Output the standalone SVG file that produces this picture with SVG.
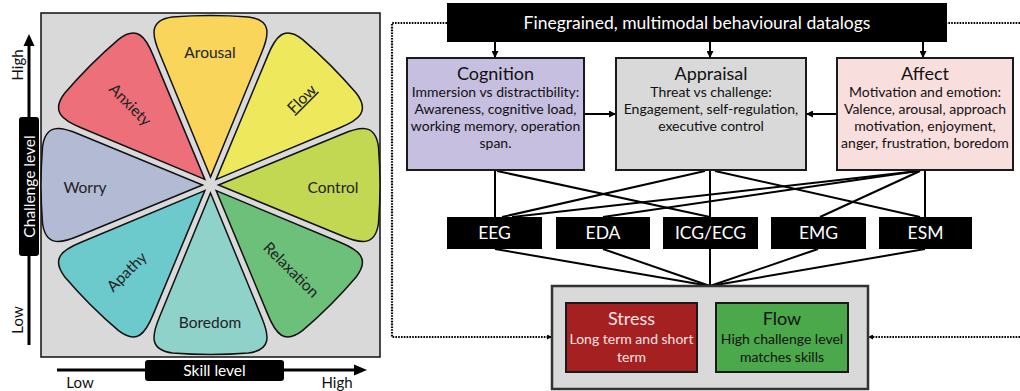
<svg xmlns="http://www.w3.org/2000/svg" width="1020" height="391" viewBox="0 0 1020 391">
  <defs>
    <!-- one petal of the flow wheel, pointing up from the hub -->
    <path id="petal" d="M0,-8 L-51,-132 C-59,-151 -61,-165 -38,-168 Q0,-171 38,-168 C61,-165 59,-151 51,-132 Z"/>
    <marker id="ah" viewBox="0 0 10 10" refX="10" refY="5" markerUnits="userSpaceOnUse" markerWidth="7" markerHeight="7" orient="auto-start-reverse">
      <path d="M0,0 L10,5 L0,10 Z" fill="#000"/>
    </marker>
    <marker id="ahs" viewBox="0 0 10 10" refX="10" refY="5" markerUnits="userSpaceOnUse" markerWidth="5" markerHeight="5" orient="auto-start-reverse">
      <path d="M0,0 L10,5 L0,10 Z" fill="#000"/>
    </marker>
  </defs>
  <style>
    text { font-family: Lato, "Open Sans", "DejaVu Sans", sans-serif; }
    .petal { stroke: #111; stroke-width: 1.5; }
    .plbl { font-size: 15.5px; fill: #222; text-anchor: middle; }
    .axlbl { font-size: 15px; fill: #111; text-anchor: middle; }
    .axbox { fill: #000; }
    .axtxt { font-size: 15.5px; fill: #fff; text-anchor: middle; }
    .box { stroke: #1a1a1a; stroke-width: 2; }
    .ttl { font-size: 18px; fill: #111; text-anchor: middle; }
    .body { font-size: 14px; fill: #111; text-anchor: middle; }
    .blk { fill: #000; }
    .wtxt { font-size: 17.5px; fill: #fff; text-anchor: middle; }
    .conn { stroke: #000; stroke-width: 2; fill: none; }
    .dot { stroke: #000; stroke-width: 2.2; stroke-dasharray: 1.6 1.2; fill: none; }
    .light { fill: #fbe3e3; }
  </style>

  <rect width="1020" height="391" fill="#fff"/>

  <!-- flow wheel panel -->
  <g id="wheel">
    <rect x="41" y="13" width="339" height="344" fill="#d9d9d9" stroke="#111" stroke-width="1.5"/>
    <g transform="translate(210.5,185)">
      <use href="#petal" class="petal" fill="#f9d55b" transform="rotate(0)"/>
      <use href="#petal" class="petal" fill="#ede85c" transform="rotate(45)"/>
      <use href="#petal" class="petal" fill="#c3d852" transform="rotate(90)"/>
      <use href="#petal" class="petal" fill="#6dc07a" transform="rotate(135)"/>
      <use href="#petal" class="petal" fill="#8fd2ca" transform="rotate(180)"/>
      <use href="#petal" class="petal" fill="#6ccacc" transform="rotate(225)"/>
      <use href="#petal" class="petal" fill="#b3bad4" transform="rotate(270)"/>
      <use href="#petal" class="petal" fill="#ec6f7a" transform="rotate(315)"/>
    </g>
    <text class="plbl" x="210" y="58">Arousal</text>
    <text class="plbl" transform="translate(302,99) rotate(-45)" y="5" text-decoration="underline">Flow</text>
    <text class="plbl" x="333" y="193">Control</text>
    <text class="plbl" transform="translate(291,270) rotate(45)" y="5">Relaxation</text>
    <text class="plbl" x="210" y="328">Boredom</text>
    <text class="plbl" transform="translate(127,272) rotate(-45)" y="5">Apathy</text>
    <text class="plbl" x="85" y="193">Worry</text>
    <text class="plbl" transform="translate(130,105) rotate(45)" y="5">Anxiety</text>
  </g>

  <!-- challenge axis -->
  <g id="challenge-axis">
    <line x1="29" y1="345" x2="29" y2="44" stroke="#000" stroke-width="3"/>
    <path d="M23.5,46 L29,34 L34.5,46 Z" fill="#000"/>
    <rect class="axbox" x="19" y="117" width="20" height="139" rx="3"/>
    <text class="axtxt" transform="translate(34.5,186.5) rotate(-90)">Challenge level</text>
    <text class="axlbl" transform="translate(23,65) rotate(-90)">High</text>
    <text class="axlbl" transform="translate(23,320) rotate(-90)">Low</text>
  </g>

  <!-- skill axis -->
  <g id="skill-axis">
    <line x1="57" y1="370" x2="356" y2="370" stroke="#000" stroke-width="3"/>
    <path d="M354,364.5 L367,370 L354,375.5 Z" fill="#000"/>
    <rect class="axbox" x="145" y="360" width="139" height="21" rx="3"/>
    <text class="axtxt" x="214.5" y="376">Skill level</text>
    <text class="axlbl" x="80" y="388">Low</text>
    <text class="axlbl" x="337" y="388">High</text>
  </g>

  <!-- connectors -->
  <g id="connectors">
    <line class="conn" x1="495" y1="42" x2="495" y2="58" marker-end="url(#ah)"/>
    <line class="conn" x1="710" y1="42" x2="710" y2="58" marker-end="url(#ah)"/>
    <line class="conn" x1="923" y1="42" x2="923" y2="58" marker-end="url(#ah)"/>
    <line class="conn" x1="584" y1="114" x2="616" y2="114" marker-end="url(#ah)"/>
    <line class="conn" x1="837" y1="114" x2="806" y2="114" marker-end="url(#ah)"/>

    <line class="conn" x1="495" y1="171" x2="495" y2="217"/>
    <line class="conn" x1="497" y1="171" x2="710" y2="217"/>
    <line class="conn" x1="705" y1="171" x2="502" y2="217"/>
    <line class="conn" x1="710" y1="171" x2="710" y2="217"/>
    <line class="conn" x1="715" y1="171" x2="920" y2="217"/>
    <line class="conn" x1="918" y1="171" x2="512" y2="217"/>
    <line class="conn" x1="918" y1="171" x2="603" y2="217"/>
    <line class="conn" x1="920" y1="171" x2="820" y2="217"/>
    <line class="conn" x1="925" y1="171" x2="925" y2="217"/>

    <line class="conn" x1="495" y1="249" x2="710" y2="286"/>
    <line class="conn" x1="603" y1="249" x2="710" y2="286"/>
    <line class="conn" x1="710" y1="249" x2="710" y2="286"/>
    <line class="conn" x1="818" y1="249" x2="710" y2="286"/>
    <line class="conn" x1="925" y1="249" x2="710" y2="286"/>

    <line class="conn" x1="698" y1="340" x2="715" y2="340" stroke-width="1.5" marker-start="url(#ahs)" marker-end="url(#ahs)"/>

    <path class="dot" d="M447,23 H392 V337 H552" marker-end="url(#ahs)"/>
    <path class="dot" d="M1020,23 H947"/>
    <path class="dot" d="M1020,337 H868" marker-end="url(#ahs)"/>
  </g>

  <g id="datalogs">
    <rect class="blk" x="447" y="3" width="500" height="39"/>
    <text class="wtxt" x="697" y="29">Finegrained, multimodal behavioural datalogs</text>
  </g>

  <g id="cognition">
    <rect class="box" x="407" y="58" width="177" height="112" fill="#c6bfe0"/>
    <text class="ttl" x="495.5" y="80">Cognition</text>
    <text class="body" x="495.5" y="97">Immersion vs distractibility:</text>
    <text class="body" x="495.5" y="114">Awareness, cognitive load,</text>
    <text class="body" x="495.5" y="131">working memory, operation</text>
    <text class="body" x="495.5" y="148">span.</text>
  </g>

  <g id="appraisal">
    <rect class="box" x="616" y="58" width="190" height="112" fill="#d9d9d9"/>
    <text class="ttl" x="711" y="80">Appraisal</text>
    <text class="body" x="711" y="97">Threat vs challenge:</text>
    <text class="body" x="711" y="114">Engagement, self-regulation,</text>
    <text class="body" x="711" y="131">executive control</text>
  </g>

  <g id="affect">
    <rect class="box" x="837" y="58" width="176" height="112" fill="#f9dede"/>
    <text class="ttl" x="925" y="80">Affect</text>
    <text class="body" x="925" y="97">Motivation and emotion:</text>
    <text class="body" x="925" y="114">Valence, arousal, approach</text>
    <text class="body" x="925" y="131">motivation, enjoyment,</text>
    <text class="body" x="925" y="148">anger, frustration, boredom</text>
  </g>

  <g id="eeg"><rect class="blk" x="447" y="217" width="95" height="32"/><text class="wtxt" x="494.5" y="239">EEG</text></g>
  <g id="eda"><rect class="blk" x="556" y="217" width="94" height="32"/><text class="wtxt" x="603" y="239">EDA</text></g>
  <g id="icg-ecg"><rect class="blk" x="663" y="217" width="95" height="32"/><text class="wtxt" x="710.5" y="239">ICG/ECG</text></g>
  <g id="emg"><rect class="blk" x="771" y="217" width="95" height="32"/><text class="wtxt" x="818.5" y="239">EMG</text></g>
  <g id="esm"><rect class="blk" x="879" y="217" width="93" height="32"/><text class="wtxt" x="925.5" y="239">ESM</text></g>

  <g id="outcome">
    <rect x="552" y="286" width="316" height="103" fill="#d9d9d9" stroke="#333" stroke-width="2.5"/>
  </g>

  <g id="stress">
    <rect class="box" x="566" y="303" width="131" height="69" fill="#a52121"/>
    <text class="ttl light" x="631.5" y="325">Stress</text>
    <text class="body light" x="631.5" y="344">Long term and short</text>
    <text class="body light" x="631.5" y="362">term</text>
  </g>

  <g id="flow">
    <rect class="box" x="716" y="303" width="132" height="69" fill="#4ba84b"/>
    <text class="ttl" x="782" y="325">Flow</text>
    <text class="body" x="782" y="344">High challenge level</text>
    <text class="body" x="782" y="362">matches skills</text>
  </g>
</svg>
